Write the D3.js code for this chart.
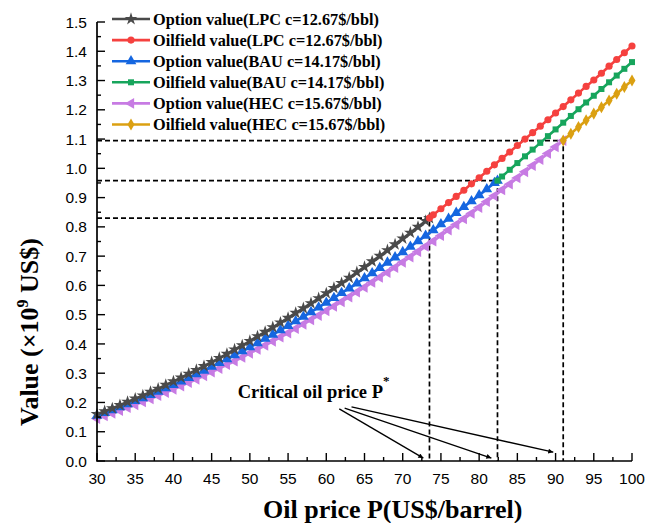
<!DOCTYPE html>
<html><head><meta charset="utf-8">
<script src="https://cdn.jsdelivr.net/npm/d3@7"></script>
<style>body{margin:0;background:#fff}</style>
</head><body>
<svg id="c" width="649" height="523"></svg>
<script>
// ---- data ----
const lpcOptP = [30,31,32,33,34,35,36,37,38,39,40,41,42,43,44,45,46,47,48,49,50,51,52,53,54,55,56,57,58,59,60,61,62,63,64,65,66,67,68,69,70,71,72,73,73.5];
const lpcOptV = [0.160,0.170,0.180,0.191,0.202,0.213,0.224,0.236,0.247,0.260,0.272,0.285,0.298,0.311,0.324,0.338,0.352,0.366,0.381,0.395,0.410,0.426,0.441,0.457,0.473,0.489,0.506,0.522,0.539,0.556,0.573,0.591,0.608,0.626,0.645,0.663,0.682,0.701,0.720,0.740,0.760,0.780,0.800,0.820,0.830];
const lpcOilP = [73.5,74,75,76,77,78,79,80,81,82,83,84,85,86,87,88,89,90,91,92,93,94,95,96,97,98,99,100];
const lpcOilV = [0.830,0.841,0.862,0.883,0.904,0.925,0.947,0.968,0.990,1.012,1.034,1.056,1.078,1.100,1.122,1.144,1.166,1.189,1.211,1.234,1.257,1.280,1.302,1.325,1.349,1.372,1.395,1.418];
const bauOptP = [30,31,32,33,34,35,36,37,38,39,40,41,42,43,44,45,46,47,48,49,50,51,52,53,54,55,56,57,58,59,60,61,62,63,64,65,66,67,68,69,70,71,72,73,74,75,76,77,78,79,80,81,82,82.4];
const bauOptV = [0.155,0.164,0.174,0.184,0.194,0.205,0.215,0.226,0.237,0.249,0.260,0.272,0.284,0.297,0.309,0.322,0.335,0.348,0.362,0.375,0.389,0.403,0.418,0.432,0.447,0.462,0.478,0.493,0.509,0.525,0.541,0.557,0.574,0.590,0.607,0.625,0.642,0.660,0.678,0.696,0.714,0.732,0.751,0.770,0.789,0.809,0.828,0.848,0.868,0.888,0.908,0.929,0.950,0.958];
const bauOilP = [82.4,83,84,85,86,87,88,89,90,91,92,93,94,95,96,97,98,99,100];
const bauOilV = [0.958,0.972,0.995,1.018,1.041,1.064,1.087,1.110,1.133,1.156,1.179,1.202,1.225,1.248,1.271,1.294,1.317,1.340,1.363];
const hecOptP = [30,31,32,33,34,35,36,37,38,39,40,41,42,43,44,45,46,47,48,49,50,51,52,53,54,55,56,57,58,59,60,61,62,63,64,65,66,67,68,69,70,71,72,73,74,75,76,77,78,79,80,81,82,83,84,85,86,87,88,89,90,91];
const hecOptV = [0.145,0.154,0.163,0.172,0.182,0.192,0.202,0.212,0.223,0.234,0.245,0.256,0.268,0.279,0.291,0.304,0.316,0.329,0.341,0.354,0.368,0.381,0.395,0.409,0.423,0.437,0.452,0.467,0.482,0.497,0.513,0.528,0.544,0.560,0.577,0.593,0.610,0.627,0.644,0.661,0.679,0.697,0.715,0.733,0.751,0.770,0.789,0.808,0.827,0.846,0.866,0.886,0.906,0.926,0.946,0.967,0.988,1.009,1.030,1.051,1.073,1.095];
const hecOilP = [91,92,93,94,95,96,97,98,99,100];
const hecOilV = [1.095,1.118,1.141,1.164,1.187,1.209,1.232,1.255,1.278,1.300];

const seriesNames = ["Option value(LPC c=12.67$/bbl)","Oilfield value(LPC c=12.67$/bbl)","Option value(BAU c=14.17$/bbl)","Oilfield value(BAU c=14.17$/bbl)","Option value(HEC c=15.67$/bbl)","Oilfield value(HEC c=15.67$/bbl)"];
const criticalP = [73.5, 82.4, 91.0];
const criticalV = [0.830, 0.958, 1.095];
const xTicks = [30,35,40,45,50,55,60,65,70,75,80,85,90,95,100];
const yTicks = [0.0,0.1,0.2,0.3,0.4,0.5,0.6,0.7,0.8,0.9,1.0,1.1,1.2,1.3,1.4,1.5];
const annotText = "Critical oil price P";
const annotPos = [48.4, 0.215];
const arrowStarts = [[61.7,0.178],[62.4,0.181],[63.3,0.185]];
const arrowEnds = [[72.7,0.010],[81.6,0.010],[89.7,0.030]];

// ---- styles ----
const colors = ["#4a4a4a","#f5413f","#1566e0","#17a55c","#c77be3","#dba012"];
const shapes = ["star","circle","triangle","square","tleft","diamond"];

const svg = d3.select("#c");
const x = d3.scaleLinear().domain([30,100]).range([97,632]);
const y = d3.scaleLinear().domain([0,1.5]).range([461,22]);

// dashed critical lines
criticalP.forEach((p,i)=>{
  svg.append("path").attr("d",`M${x(30)},${y(criticalV[i])}H${x(p)}V${y(0)}`)
    .attr("fill","none").attr("stroke","#000").attr("stroke-width",1.7).attr("stroke-dasharray","5,3");
});

const data = [[lpcOptP,lpcOptV],[lpcOilP,lpcOilV],[bauOptP,bauOptV],[bauOilP,bauOilV],[hecOptP,hecOptV],[hecOilP,hecOilV]];
function sym(s){
  if(s==="star") return d3.symbol(d3.symbolStar,50)();
  if(s==="circle") return d3.symbol(d3.symbolCircle,40)();
  if(s==="triangle") return d3.symbol(d3.symbolTriangle,50)();
  if(s==="square") return d3.symbol(d3.symbolSquare,36)();
  if(s==="tleft") return d3.symbol(d3.symbolTriangle,50)();
  if(s==="diamond") return d3.symbol(d3.symbolDiamond,42)();
}
const line = d3.line().x(d=>x(d[0])).y(d=>y(d[1])).curve(d3.curveMonotoneX);
const order = [4,5,2,3,0,1];
order.forEach(i=>{
  const pts = data[i][0].map((p,k)=>[p,data[i][1][k]]);
  const g = svg.append("g");
  g.append("path").attr("d",line(pts)).attr("fill","none").attr("stroke",colors[i]).attr("stroke-width",2.6);
  g.selectAll("path.m").data(pts).enter().append("path").attr("class","m")
    .attr("d",sym(shapes[i]))
    .attr("transform",d=>`translate(${x(d[0])},${y(d[1])})`+(shapes[i]==="tleft"?" rotate(-90)":""))
    .attr("fill",colors[i]);
});

// axes
const ax = svg.append("g").attr("font-family","Liberation Sans, Arial, sans-serif").attr("font-size",15.5);
ax.append("path").attr("d",`M${x(30)},${y(1.5)}V${y(0)}H${x(100)}`).attr("fill","none").attr("stroke","#000").attr("stroke-width",1.7);
d3.range(0,1.5001,0.05).forEach(v=>{
  const major = Math.abs(v*10-Math.round(v*10))<1e-6;
  ax.append("line").attr("x1",x(30)).attr("x2",x(30)+(major?8:4)).attr("y1",y(v)).attr("y2",y(v)).attr("stroke","#000").attr("stroke-width",1.4);
});
d3.range(30,100.001,2.5).forEach(v=>{
  const major = Math.abs(v/5-Math.round(v/5))<1e-6;
  ax.append("line").attr("x1",x(v)).attr("x2",x(v)).attr("y1",y(0)).attr("y2",y(0)-(major?8:4)).attr("stroke","#000").attr("stroke-width",1.4);
});
yTicks.forEach(v=>{
  ax.append("text").attr("x",x(30)-10).attr("y",y(v)).attr("dy","0.36em").attr("text-anchor","end").text(v.toFixed(1));
});
xTicks.forEach(v=>{
  ax.append("text").attr("x",x(v)).attr("y",y(0)+23).attr("text-anchor","middle").text(v);
});

// axis titles
svg.append("text").attr("x",263).attr("y",518).attr("text-anchor","start")
  .attr("font-family","Liberation Serif, Times New Roman, serif").attr("font-weight","bold").attr("font-size",26)
  .text("Oil price P(US$/barrel)");
const yt = svg.append("text").attr("transform",`translate(38,426) rotate(-90)`).attr("text-anchor","start")
  .attr("font-family","Liberation Serif, Times New Roman, serif").attr("font-weight","bold").attr("font-size",26);
yt.append("tspan").text("Value (×10");
yt.append("tspan").attr("dy",-10).attr("font-size",16).text("9");
yt.append("tspan").attr("dy",10).text(" US$)");

// annotation
const at = svg.append("text").attr("x",x(annotPos[0])).attr("y",y(annotPos[1]))
  .attr("font-family","Liberation Serif, Times New Roman, serif").attr("font-weight","bold").attr("font-size",18.5);
at.append("tspan").text(annotText);
at.append("tspan").attr("dy",-13).attr("font-size",13).text("*");
svg.append("defs").append("marker").attr("id","ah").attr("viewBox","0 0 10 10").attr("refX",10).attr("refY",5)
  .attr("markerWidth",8).attr("markerHeight",5).attr("orient","auto").attr("markerUnits","userSpaceOnUse")
  .append("path").attr("d","M0,0L10,5L0,10z").attr("fill","#000");
arrowStarts.forEach((s,i)=>{
  svg.append("line").attr("x1",x(s[0])).attr("y1",y(s[1])).attr("x2",x(arrowEnds[i][0])).attr("y2",y(arrowEnds[i][1]))
    .attr("stroke","#000").attr("stroke-width",1.3).attr("marker-end","url(#ah)");
});

// legend
const lg = svg.append("g").attr("font-family","Liberation Serif, Times New Roman, serif").attr("font-weight","bold").attr("font-size",16.3);
seriesNames.forEach((n,i)=>{
  const yy = 19 + i*21.1;
  lg.append("line").attr("x1",112).attr("x2",150).attr("y1",yy).attr("y2",yy).attr("stroke",colors[i]).attr("stroke-width",2.6);
  lg.append("path").attr("d",sym(shapes[i])).attr("transform",`translate(131,${yy})`+(shapes[i]==="tleft"?" rotate(-90)":"")).attr("fill",colors[i]);
  lg.append("text").attr("x",153).attr("y",yy).attr("dy","0.34em").text(n);
});
</script>
</body></html>
